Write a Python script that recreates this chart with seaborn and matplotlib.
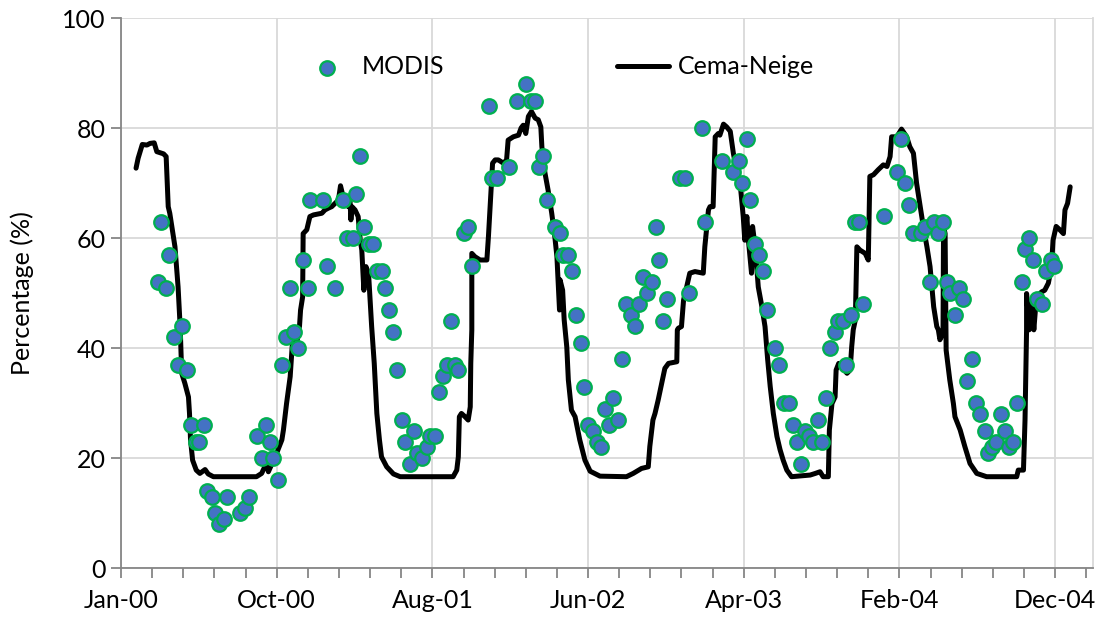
import numpy as np
import pandas as pd
import matplotlib
matplotlib.use("Agg")
import matplotlib.pyplot as plt
import matplotlib.dates as mdates
from matplotlib.ticker import FixedLocator, NullFormatter
import seaborn as sns

# ---- data (days since 2000-01-01, percentage) ----
modis_day = [71, 78, 87, 93, 102, 110, 118, 127, 134, 145, 151, 159, 166, 175, 182, 189,
             199, 205, 229, 238, 246, 262, 271, 279, 287, 293, 303, 311, 318, 326, 334,
             342, 350, 360, 364, 390, 397, 413, 428, 436, 447, 452, 461, 469, 478, 486,
             493, 502, 509, 517, 525, 531, 541, 548, 557, 565, 571, 580, 589, 595, 606,
             613, 620, 629, 636, 644, 650, 660, 669, 676, 709, 714, 725, 748, 764, 780,
             791, 798, 805, 814, 821, 837, 846, 852, 862, 869, 877, 886, 893, 900, 909,
             917, 925, 933, 941, 949, 958, 965, 974, 982, 990, 998, 1005, 1014, 1023,
             1030, 1037, 1045, 1053, 1077, 1087, 1094, 1119, 1126, 1158, 1180, 1190,
             1197, 1206, 1213, 1222, 1230, 1238, 1245, 1260, 1267, 1278, 1288, 1294,
             1302, 1310, 1318, 1326, 1334, 1343, 1351, 1358, 1366, 1375, 1381, 1391,
             1398, 1406, 1414, 1423, 1430, 1470, 1495, 1503, 1511, 1519, 1526, 1542,
             1549, 1559, 1567, 1575, 1583, 1591, 1597, 1607, 1615, 1623, 1631, 1639,
             1647, 1655, 1664, 1670, 1678, 1686, 1695, 1703, 1711, 1719, 1727, 1736,
             1742, 1750, 1758, 1766, 1775, 1783, 1792, 1798]
modis_pct = [52, 63, 51, 57, 42, 37, 44, 36, 26, 23, 23, 26, 14, 13, 10, 8,
             9, 13, 10, 11, 13, 24, 20, 26, 23, 20, 16, 37, 42, 51, 43,
             40, 56, 51, 67, 67, 55, 51, 67, 60, 60, 68, 75, 62, 59, 59,
             54, 54, 51, 47, 43, 36, 27, 23, 19, 25, 21, 20, 22, 24, 24,
             32, 35, 37, 45, 37, 36, 61, 62, 55, 84, 71, 71, 73, 85, 88,
             85, 85, 73, 75, 67, 62, 61, 57, 57, 54, 46, 41, 33, 26, 25,
             23, 22, 29, 26, 31, 27, 38, 48, 46, 44, 48, 53, 50, 52,
             62, 56, 45, 49, 71, 71, 50, 80, 63, 74, 72, 74,
             70, 78, 67, 59, 57, 54, 47, 40, 37, 30, 30, 26,
             23, 19, 25, 24, 23, 27, 23, 31, 40, 43, 45, 45,
             37, 46, 63, 63, 48, 64, 72, 78, 70, 66, 61, 61,
             62, 52, 63, 61, 63, 52, 50, 46, 51, 49, 34, 38,
             30, 28, 25, 21, 22, 23, 28, 25, 22, 23, 30, 52,
             58, 60, 56, 49, 48, 54, 56, 55]

cema_day = [29, 33, 41, 50, 56, 64, 69, 82, 87, 91, 94, 104, 110, 114, 117, 123, 130, 132,
            134, 138, 145, 152, 162, 168, 178, 261, 271, 277, 281, 284, 300, 310, 313,
            319, 326, 332, 337, 344, 346, 350, 351, 358, 364, 371, 387, 393, 399, 406,
            419, 423, 428, 434, 438, 441, 443, 445, 451, 457, 461, 464, 468, 472, 477,
            480, 483, 488, 493, 498, 502, 512, 525, 538, 640, 647, 650, 652, 656, 663,
            669, 673, 674, 676, 676, 682, 692, 705, 708, 711, 716, 721, 727, 737, 743,
            746, 756, 766, 771, 775, 780, 785, 791, 798, 804, 809, 811, 817, 823, 830,
            836, 840, 845, 846, 851, 854, 859, 862, 868, 875, 884, 894, 904, 923, 974,
            987, 1003, 1016, 1019, 1025, 1029, 1035, 1042, 1048, 1055, 1071, 1072, 1074,
            1080, 1084, 1090, 1096, 1106, 1122, 1125, 1132, 1135, 1141, 1145, 1151,
            1154, 1161, 1167, 1174, 1180, 1186, 1193, 1199, 1202, 1206, 1209, 1215,
            1217, 1222, 1225, 1228, 1235, 1241, 1246, 1251, 1257, 1264, 1270, 1276,
            1283, 1292, 1328, 1338, 1347, 1353, 1363, 1365, 1370, 1376, 1378, 1383,
            1399, 1405, 1408, 1411, 1415, 1418, 1424, 1434, 1440, 1443, 1450, 1459,
            1469, 1476, 1482, 1485, 1495, 1504, 1514, 1520, 1527, 1533, 1540, 1546,
            1553, 1559, 1566, 1572, 1575, 1578, 1584, 1585, 1588, 1590, 1597, 1604,
            1607, 1617, 1626, 1636, 1649, 1668, 1726, 1729, 1739, 1742, 1745, 1745,
            1750, 1755, 1759, 1764, 1774, 1780, 1787, 1793, 1796, 1802, 1809, 1816,
            1819, 1824, 1829]
cema_pct = [72.7, 74.5, 77.0, 76.9, 77.2, 77.3, 75.7, 75.3, 74.8, 65.7, 64.5, 58.4, 51.1, 43.9,
            35.4, 33.6, 31.1, 28.1, 23.3, 19.6, 17.8, 17.2, 17.9, 17.1, 16.6, 16.6, 17.2,
            18.4, 19.3, 17.5, 20.9, 23.3, 25.1, 29.9, 34.8, 43.3, 40.0, 44.0, 46.9, 49.3,
            60.8, 61.5, 63.9, 64.2, 64.5, 65.1, 65.4, 65.7, 66.9, 69.5, 67.5, 66.9, 65.7,
            67.5, 63.3, 65.7, 65.1, 63.9, 59.6, 57.8, 50.5, 54.8, 53.6, 48.7, 43.9, 37.2,
            28.1, 23.3, 20.2, 18.4, 17.1, 16.6, 16.6, 17.8, 20.2, 27.5, 28.1, 27.5, 26.9,
            29.3, 37.2, 43.3, 57.2, 56.6, 56.0, 56.0, 60.2, 65.1, 73.6, 74.2, 74.2, 73.6,
            74.2, 77.8, 78.4, 78.7, 80.0, 80.5, 79.0, 82.1, 83.0, 81.8, 81.5, 80.2, 76.6,
            71.8, 68.7, 64.5, 60.2, 56.6, 46.9, 52.4, 50.5, 45.1, 40.2, 34.2, 28.7, 27.5,
            23.3, 19.6, 17.6, 16.7, 16.6, 17.2, 18.1, 18.4, 22.1, 26.9, 28.1, 30.5, 33.6,
            36.3, 37.2, 37.5, 43.3, 43.6, 43.9, 48.7, 51.1, 53.6, 53.9, 53.6, 58.4, 65.1,
            65.7, 65.7, 78.4, 79.0, 78.7, 80.7, 80.2, 79.4, 75.4, 72.4, 70.0, 63.9, 59.6,
            63.9, 59.6, 53.6, 62.1, 58.4, 54.8, 51.1, 47.5, 43.9, 38.0, 33.0, 28.1, 23.9,
            21.5, 19.6, 17.8, 16.6, 16.9, 17.2, 17.5, 16.6, 16.6, 25.1, 29.9, 31.1, 36.0,
            37.2, 35.4, 36.0, 40.2, 43.3, 45.1, 58.4, 57.8, 57.2, 56.0, 71.2, 71.5, 72.4,
            73.3, 73.0, 74.8, 78.4, 78.4, 79.8, 78.4, 76.6, 75.4, 70.0, 65.7, 62.1, 58.4,
            54.8, 47.5, 43.9, 43.3, 41.5, 42.7, 62.1, 60.8, 39.6, 34.2, 29.9, 27.5, 25.1,
            22.1, 19.0, 17.2, 16.6, 16.6, 17.8, 17.8, 26.9, 43.3, 49.9, 43.3, 48.7, 43.3,
            49.3, 50.2, 50.5, 51.8, 54.8, 59.6, 62.1, 61.5, 60.8, 65.1, 66.3, 69.3]

y_ticks = [0, 20, 40, 60, 80, 100]
series_names = ["MODIS", "Cema-Neige"]
y_label = "Percentage (%)"

# ---- build frames ----
start = pd.Timestamp("2000-01-01")
modis = pd.DataFrame({"date": start + pd.to_timedelta(modis_day, unit="D"), "pct": modis_pct})
cema = pd.DataFrame({"date": start + pd.to_timedelta(cema_day, unit="D"), "pct": cema_pct})

sns.set_theme(style="white")
plt.rcParams["font.family"] = ["Lato", "DejaVu Sans"]
plt.rcParams["text.color"] = "black"
plt.rcParams["axes.labelcolor"] = "black"
plt.rcParams["xtick.color"] = "black"
plt.rcParams["ytick.color"] = "black"

FS = 18

fig = plt.figure(figsize=(11.01, 6.23), dpi=100)
ax = fig.add_axes([121 / 1101, 55 / 623, 972 / 1101, 550 / 623])

sns.lineplot(data=cema, x="date", y="pct", ax=ax, color="black", linewidth=3.6,
             estimator=None, sort=False, label=series_names[1], zorder=3)
sns.scatterplot(data=modis, x="date", y="pct", ax=ax, color="#4472C4", edgecolor="#00B050",
                linewidth=1.6, s=110, label=series_names[0], zorder=4)

# axes
x0 = mdates.date2num(start)
ax.set_xlim(x0, x0 + 1873)
ax.set_ylim(0, 100)
major = [x0 + 300 * k for k in range(7)]
minor = [x0 + 60 * k for k in range(32)]
ax.xaxis.set_major_locator(FixedLocator(major))
ax.xaxis.set_minor_locator(FixedLocator(minor))
ax.xaxis.set_major_formatter(mdates.DateFormatter("%b-%y"))
ax.xaxis.set_minor_formatter(NullFormatter())
ax.set_yticks(y_ticks)

ax.grid(True, which="major", color="#D9D9D9", linewidth=1.3)
ax.set_axisbelow(True)
ax.spines["top"].set_visible(False)
ax.spines["right"].set_visible(True)
ax.spines["right"].set_color("#D9D9D9")
ax.spines["right"].set_linewidth(1.3)
for side in ["left", "bottom"]:
    ax.spines[side].set_color("#868686")
    ax.spines[side].set_linewidth(1.3)

ax.tick_params(axis="x", which="both", direction="out", length=7, width=1.3,
               color="#868686", labelsize=FS, pad=8, bottom=True, labelcolor="black")
ax.tick_params(axis="y", which="major", direction="out", length=7, width=1.3,
               color="#868686", labelsize=FS, pad=4, left=True, labelcolor="black")
ax.set_xlabel("")
ax.set_ylabel(y_label, fontsize=FS, labelpad=20, color="black")

# legend
handles, labels = ax.get_legend_handles_labels()
order = [labels.index(series_names[0]), labels.index(series_names[1])]
leg = ax.legend([handles[i] for i in order], [labels[i] for i in order],
                loc="center left", bbox_to_anchor=(180 / 972, 0.911), ncol=2,
                frameon=False, fontsize=FS, handlelength=2.08, handletextpad=0.36,
                columnspacing=6.9, borderaxespad=0, borderpad=0)
for t in leg.get_texts():
    t.set_color("black")

fig.savefig("out.png", dpi=100)
